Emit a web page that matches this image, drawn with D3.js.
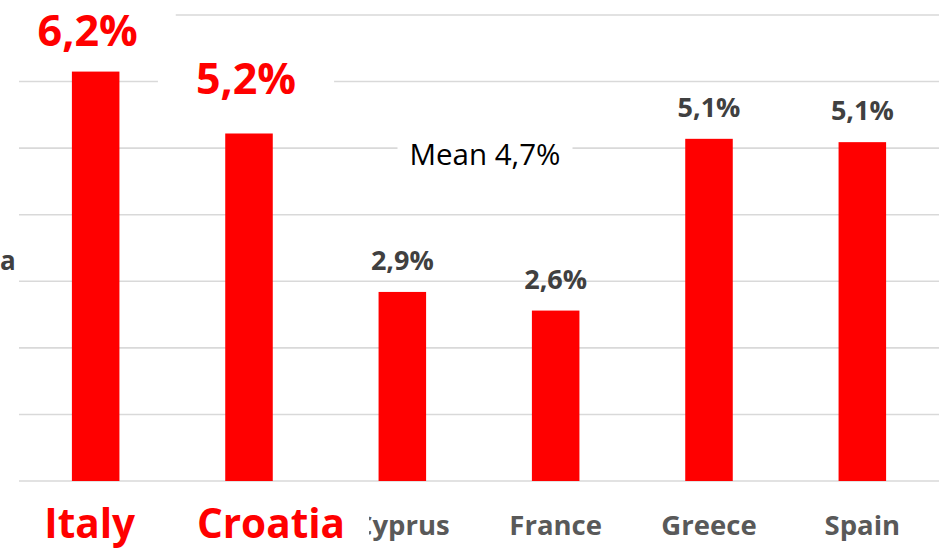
<!DOCTYPE html>
<html>
<head>
<meta charset="utf-8">
<script src="https://cdn.jsdelivr.net/npm/d3@7"></script>
<style>
  body { margin: 0; background: #fff; }
  svg { display: block; font-family: "Open Sans", sans-serif; }
</style>
</head>
<body>
<div id="chart"></div>
<script>
// values
const countries = ["Italy", "Croatia", "Cyprus", "France", "Greece", "Spain"];
const rates = [6.15, 5.22, 2.84, 2.56, 5.14, 5.09];
const rateLabels = ["6,2%", "5,2%", "2,9%", "2,6%", "5,1%", "5,1%"];
const highlighted = ["Italy", "Croatia"];
const gridTicks = [0, 1, 2, 3, 4, 5, 6, 7];
const meanLabel = "Mean 4,7%";

const width = 942, height = 551;
const red = "#ff0000";

const svg = d3.select("#chart")
    .append("svg")
    .attr("width", width)
    .attr("height", height);

let x = d3.scaleBand(countries, [19, 939])
    .paddingInner(0.69)
    .paddingOuter(0.345);

let y = d3.scaleLinear([0, 7], [481, 15]);

// gridlines
svg.append("g")
    .selectAll("line")
    .data(gridTicks)
    .join("line")
      .attr("x1", 19)
      .attr("x2", 939)
      .attr("y1", d => y(d))
      .attr("y2", d => y(d))
      .attr("stroke", "#d9d9d9")
      .attr("stroke-width", 1.6);

// bars
svg.append("g")
    .selectAll("rect")
    .data(countries)
    .join("rect")
      .attr("x", d => x(d))
      .attr("y", (d, i) => y(rates[i]))
      .attr("width", x.bandwidth())
      .attr("height", (d, i) => y(0) - y(rates[i]))
      .attr("fill", red);

const isHi = d => highlighted.includes(d);

// ordinary category labels (drawn first so the red ones can sit on top)
svg.append("g")
    .selectAll("text")
    .data(countries.filter(d => !isHi(d)))
    .join("text")
      .attr("x", d => x(d) + x.bandwidth() / 2)
      .attr("y", 535)
      .attr("text-anchor", "middle")
      .attr("font-size", 27.5)
      .attr("font-weight", 700)
      .attr("fill", "#595959")
      .text(d => d);

// ordinary value labels
svg.append("g")
    .selectAll("text")
    .data(countries.filter(d => !isHi(d)))
    .join("text")
      .attr("x", d => x(d) + x.bandwidth() / 2)
      .attr("y", d => y(rates[countries.indexOf(d)]) - 22)
      .attr("text-anchor", "middle")
      .attr("font-size", 27)
      .attr("font-weight", 700)
      .attr("fill", "#404040")
      .text(d => rateLabels[countries.indexOf(d)]);

// boxed labels: white background like the original text boxes
function boxedText(g, tx, ty, txt, opts) {
    const t = g.append("text")
        .attr("x", tx)
        .attr("y", ty)
        .attr("text-anchor", "middle")
        .attr("font-size", opts.size)
        .attr("font-weight", opts.weight)
        .attr("fill", opts.color)
        .text(txt);
    const b = t.node().getBBox();
    g.insert("rect", () => t.node())
        .attr("x", b.x - opts.padX)
        .attr("y", b.y - 4)
        .attr("width", b.width + opts.padX * 2)
        .attr("height", Math.min(b.height + 8, height - (b.y - 4)))
        .attr("fill", "#fff");
}

// little nudges for the two big labels, as in the original layout
const hiShift = {Italy: [-8, 26, -6, 36], Croatia: [-3, 39, 22, 24]};

highlighted.forEach(d => {
    const i = countries.indexOf(d);
    const cx = x(d) + x.bandwidth() / 2;
    const s = hiShift[d];
    boxedText(svg.append("g"), cx + s[0], y(rates[i]) - s[1], rateLabels[i],
        {size: 43, weight: 700, color: red, padX: 38});
    boxedText(svg.append("g"), cx + s[2], 538, d,
        {size: 40.5, weight: 700, color: red, padX: s[3]});
});

// mean annotation
boxedText(svg.append("g"), 485, 165, meanLabel,
    {size: 29.5, weight: 400, color: "#000", padX: 12});

// axis title remnant at the left edge
svg.append("text")
    .attr("x", 0)
    .attr("y", 270)
    .attr("font-size", 26)
    .attr("font-weight", 700)
    .attr("fill", "#404040")
    .text("a");
</script>
</body>
</html>
